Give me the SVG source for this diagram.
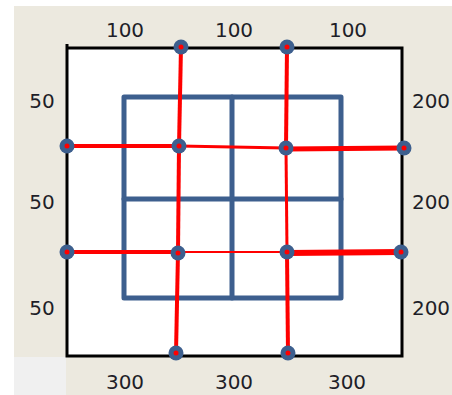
<svg xmlns="http://www.w3.org/2000/svg" width="452" height="395" viewBox="0 0 452 395">
<style>
.lbl{font-family:"DejaVu Sans",sans-serif;font-size:20px;fill:#1e1e28;text-anchor:middle}
.frame{fill:none;stroke:#000;stroke-width:3}
.grid{fill:none;stroke:#3d5f8e;stroke-width:5;stroke-linejoin:round;stroke-linecap:round}
.red{stroke:#ff0000;fill:none}
.dot{fill:#3d5f8e}
.core{fill:#ff0000}
</style>
<defs>
<g id="pin"><circle r="7.5" class="dot"/><circle r="2.5" class="core"/></g>
</defs>
<rect x="0" y="0" width="452" height="395" fill="#ffffff"/>
<rect x="14" y="6" width="438" height="389" fill="#ece9df"/>
<rect x="14" y="357" width="52" height="38" fill="#f0f0f0"/>
<g id="board">
<rect x="67" y="48" width="335" height="308" fill="#ffffff"/>
<polyline class="frame" points="67,44 67,356 402,356 402,48 67,48"/>
</g>
<g id="grid">
<rect x="124" y="97" width="217" height="201" class="grid"/>
<line x1="232" y1="97" x2="232" y2="298" class="grid"/>
<line x1="124" y1="199" x2="341" y2="199" class="grid"/>
</g>
<g id="connectors">
<line class="red" x1="181" y1="47" x2="179" y2="146" stroke-width="4"/>
<line class="red" x1="179" y1="146" x2="178" y2="252" stroke-width="4"/>
<line class="red" x1="178" y1="252" x2="176" y2="353" stroke-width="4"/>
<line class="red" x1="287" y1="47" x2="286" y2="148" stroke-width="4"/>
<line class="red" x1="286" y1="148" x2="287" y2="252" stroke-width="3"/>
<line class="red" x1="287" y1="252" x2="288" y2="353" stroke-width="4"/>
<line class="red" x1="67" y1="146" x2="179" y2="146" stroke-width="4"/>
<line class="red" x1="179" y1="146" x2="286" y2="148" stroke-width="3"/>
<line class="red" x1="286" y1="149" x2="404" y2="148" stroke-width="5"/>
<line class="red" x1="67" y1="252" x2="178" y2="252" stroke-width="4"/>
<line class="red" x1="178" y1="252" x2="287" y2="252" stroke-width="2"/>
<line class="red" x1="287" y1="253" x2="401" y2="252" stroke-width="6"/>
</g>
<g id="pins">
<use href="#pin" x="181" y="47"/>
<use href="#pin" x="287" y="47"/>
<use href="#pin" x="67" y="146"/>
<use href="#pin" x="179" y="146"/>
<use href="#pin" x="286" y="148"/>
<use href="#pin" x="404" y="148"/>
<use href="#pin" x="67" y="252"/>
<use href="#pin" x="178" y="253"/>
<use href="#pin" x="287" y="252"/>
<use href="#pin" x="401" y="252"/>
<use href="#pin" x="176" y="353"/>
<use href="#pin" x="288" y="353"/>
</g>
<g id="labels">
<text class="lbl" x="125" y="37">100</text>
<text class="lbl" x="234" y="37">100</text>
<text class="lbl" x="348" y="37">100</text>
<text class="lbl" x="42" y="108">50</text>
<text class="lbl" x="42" y="209">50</text>
<text class="lbl" x="42" y="315">50</text>
<text class="lbl" x="431" y="108">200</text>
<text class="lbl" x="431" y="209">200</text>
<text class="lbl" x="431" y="315">200</text>
<text class="lbl" x="125" y="389">300</text>
<text class="lbl" x="234" y="389">300</text>
<text class="lbl" x="347" y="389">300</text>
</g>
</svg>
